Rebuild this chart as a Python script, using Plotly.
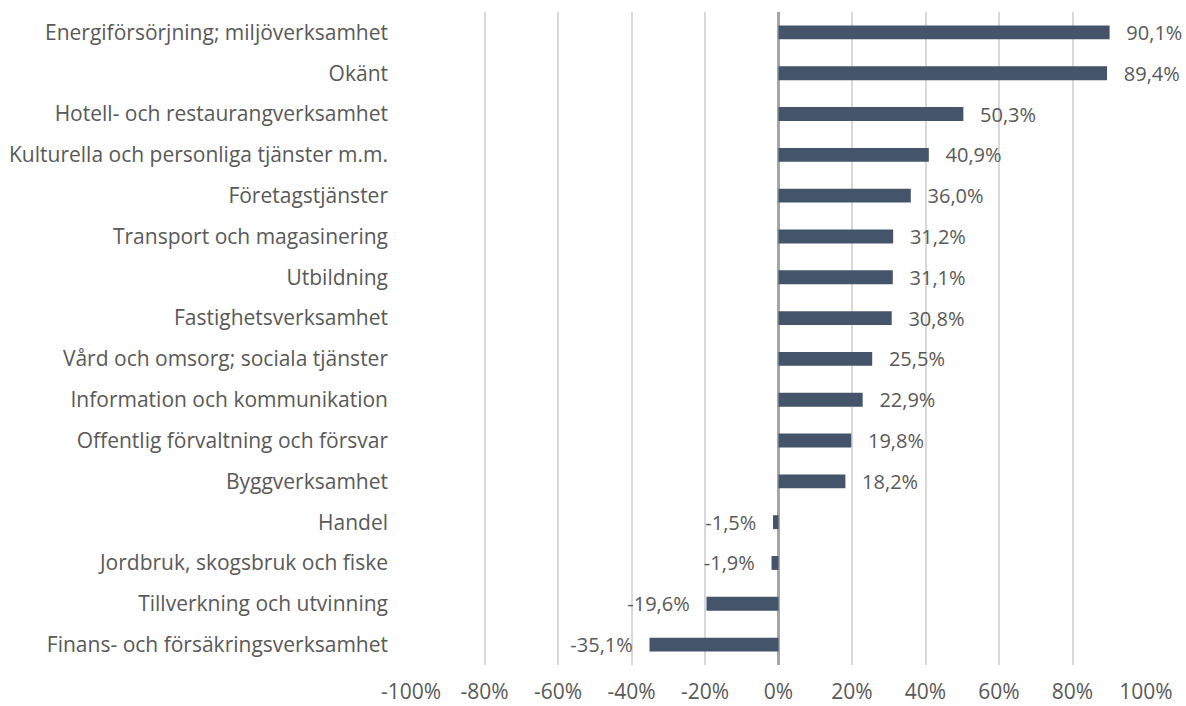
import plotly.graph_objects as go

categories = [
    "Energiförsörjning; miljöverksamhet",
    "Okänt",
    "Hotell- och restaurangverksamhet",
    "Kulturella och personliga tjänster m.m.",
    "Företagstjänster",
    "Transport och magasinering",
    "Utbildning",
    "Fastighetsverksamhet",
    "Vård och omsorg; sociala tjänster",
    "Information och kommunikation",
    "Offentlig förvaltning och försvar",
    "Byggverksamhet",
    "Handel",
    "Jordbruk, skogsbruk och fiske",
    "Tillverkning och utvinning",
    "Finans- och försäkringsverksamhet",
]
values = [90.1, 89.4, 50.3, 40.9, 36.0, 31.2, 31.1, 30.8, 25.5, 22.9, 19.8, 18.2, -1.5, -1.9, -19.6, -35.1]
tick_values = [-100, -80, -60, -40, -20, 0, 20, 40, 60, 80, 100]
tick_labels = [f"{t}%" for t in tick_values]

PAD = "\u00a0\u00a0\u2009"
labels = [
    (PAD + f"{v:.1f}".replace(".", ",") + "%") if v >= 0 else (f"{v:.1f}".replace(".", ",") + "%" + PAD)
    for v in values
]

FONT = "'Open Sans', sans-serif"
TXT = "#595959"
FS = 21

fig = go.Figure(go.Bar(
    y=categories,
    x=values,
    orientation="h",
    marker=dict(color="#44546A", line=dict(width=0)),
    width=0.34,
    text=labels,
    textposition="outside",
    textfont=dict(family=FONT, size=20, color=TXT),
    cliponaxis=False,
    constraintext="none",
))

fig.update_layout(
    width=1186, height=706,
    margin=dict(l=411, r=40, t=12, b=41),
    paper_bgcolor="white", plot_bgcolor="white",
    font=dict(family=FONT, size=FS, color=TXT),
    showlegend=False,
)
fig.update_xaxes(
    range=[-100, 100], automargin=False,
    tickvals=tick_values, ticktext=tick_labels,
    showgrid=True, gridcolor="#D9D9D9", gridwidth=2,
    zeroline=True, zerolinecolor="#A6A6A6", zerolinewidth=3,
    showline=False, ticks="", ticklabelstandoff=12,
    tickfont=dict(family=FONT, size=FS, color=TXT),
)
fig.update_yaxes(
    autorange="reversed", automargin=False,
    showgrid=False, showline=False, ticks="",
    ticklabelstandoff=22,
    tickfont=dict(family=FONT, size=FS, color=TXT),
)

fig.write_html(
    "out.html",
    config={"displayModeBar": False},
    post_script="document.body.style.margin='0';document.body.style.overflow='hidden';",
)
